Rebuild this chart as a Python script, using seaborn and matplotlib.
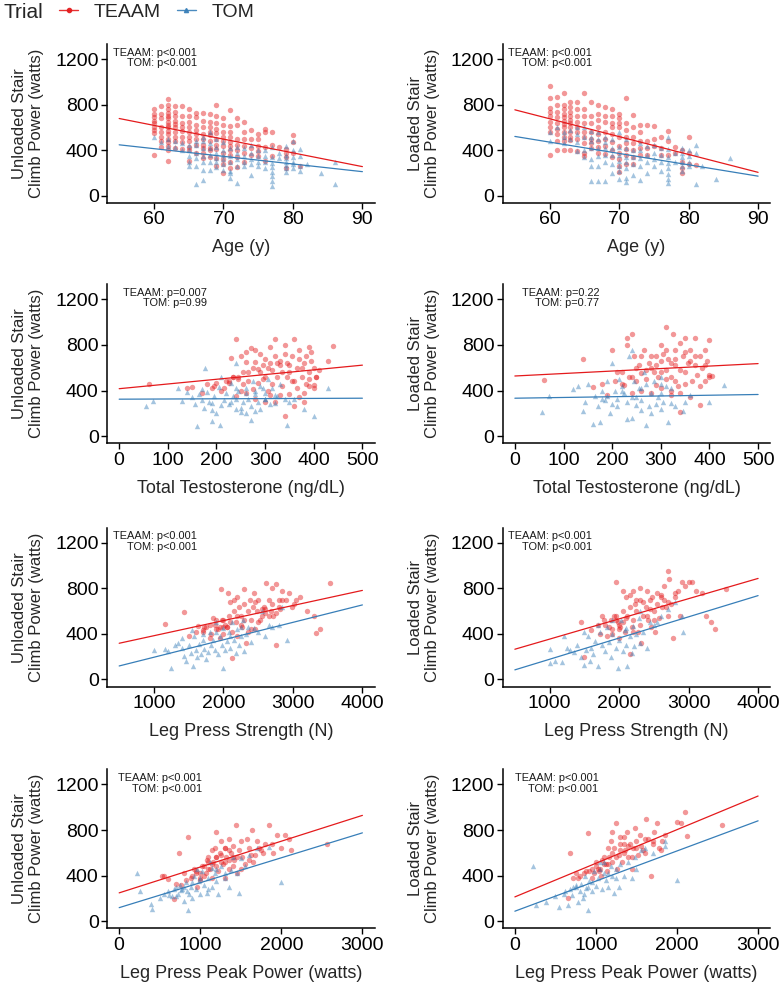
import numpy as np
import pandas as pd
import matplotlib
matplotlib.use("Agg")
import matplotlib.pyplot as plt
import seaborn as sns
from matplotlib.lines import Line2D

# ---------------- data ----------------
trials = ["TEAAM", "TOM"]
trial_colors = ["#E41A1C", "#377EB8"]
trial_markers = ["o", "^"]

# Row 1: Age (y)
unl_age_teaam = [(60,760),(60,720),(60,690),(60,660),(60,640),(60,600),(60,580),(60,550),(60,360),
 (61,790),(61,720),(61,680),(61,600),(61,560),(61,520),(61,480),(61,430),
 (62,850),(62,800),(62,760),(62,730),(62,700),(62,680),(62,650),(62,620),(62,600),(62,570),(62,540),(62,500),(62,470),(62,440),(62,400),(62,310),
 (63,790),(63,740),(63,700),(63,660),(63,630),(63,600),(63,560),(63,520),(63,480),(63,420),
 (64,790),(64,700),(64,640),(64,600),(64,570),(64,520),(64,470),(64,410),
 (65,760),(65,700),(65,650),(65,600),(65,560),(65,520),(65,480),(65,430),(65,400),(65,310),
 (66,730),(66,690),(66,620),(66,580),(66,540),(66,500),(66,450),(66,380),
 (67,730),(67,660),(67,600),(67,540),(67,500),(67,450),(67,420),(67,380),(67,330),
 (68,720),(68,650),(68,600),(68,560),(68,530),(68,480),(68,420),(68,400),(68,340),
 (69,800),(69,700),(69,640),(69,590),(69,550),(69,500),(69,450),(69,410),(69,330),(69,260),
 (70,680),(70,620),(70,560),(70,520),(70,480),(70,440),(70,380),(70,320),(70,280),(70,200),
 (71,750),(71,610),(71,560),(71,520),(71,470),(71,440),(71,400),(71,360),(71,300),(71,240),
 (72,680),(72,620),(72,500),(72,450),(72,400),(72,340),(72,250),
 (73,650),(73,560),(73,500),(73,440),(73,380),(73,300),
 (74,580),(74,500),(74,420),(74,360),
 (75,540),(75,500),(75,440),(75,390),(75,350),
 (76,590),(76,560),(76,430),(76,310),
 (77,560),(77,450),(77,350),(78,430),
 (79,410),(79,380),(79,340),(79,240),
 (80,530),(80,470),(80,380),(81,260)]
unl_age_tom = [(60,520),(61,470),(62,440),(62,500),(63,430),(63,480),(64,400),(64,460),
 (65,260),(65,300),(65,350),(65,400),(65,450),
 (66,100),(66,260),(66,330),(66,380),(66,450),(66,480),
 (67,140),(67,230),(67,300),(67,350),(67,420),(67,480),(67,520),
 (68,230),(68,300),(68,360),(68,420),(68,460),(68,560),
 (69,250),(69,300),(69,330),(69,380),(69,430),(69,500),
 (70,230),(70,280),(70,320),(70,360),(70,400),(70,470),
 (71,160),(71,200),(71,220),(71,300),(71,350),(71,420),
 (72,110),(72,260),(72,320),(72,380),(72,430),
 (73,260),(73,300),(73,350),(73,420),
 (74,180),(74,280),(74,320),(74,380),(74,450),
 (75,260),(75,300),(75,350),(75,400),
 (76,240),(76,300),(76,350),(76,400),
 (77,90),(77,130),(77,170),(77,210),(77,250),(77,290),(77,340),(77,430),
 (78,330),(78,380),
 (79,210),(79,240),(79,270),(79,300),(79,330),(79,360),(79,440),
 (80,240),(80,280),(80,300),(80,340),(80,400),(80,480),
 (81,220),(81,260),(81,350),(81,410),(82,280),(84,200),(86,100),(86,300)]
ld_age_teaam = [(60,960),(60,860),(60,770),(60,740),(60,700),(60,650),(60,600),(60,560),(60,360),
 (61,870),(61,800),(61,740),(61,690),(61,640),(61,590),(61,540),(61,480),(61,400),
 (62,900),(62,800),(62,760),(62,720),(62,690),(62,660),(62,630),(62,600),(62,560),(62,520),(62,480),(62,400),
 (63,820),(63,780),(63,740),(63,700),(63,670),(63,640),(63,600),(63,560),(63,520),(63,490),(63,400),
 (64,820),(64,760),(64,700),(64,650),(64,600),(64,560),(64,500),(64,390),
 (65,900),(65,760),(65,700),(65,640),(65,560),(65,520),(65,460),(65,380),(65,350),
 (66,820),(66,700),(66,640),(66,560),(66,500),(66,460),(66,420),
 (67,800),(67,720),(67,670),(67,600),(67,540),(67,480),(67,430),(67,380),
 (68,780),(68,700),(68,650),(68,560),(68,500),(68,440),(68,370),
 (69,760),(69,700),(69,640),(69,600),(69,540),(69,470),(69,400),(69,340),
 (70,720),(70,680),(70,640),(70,600),(70,520),(70,440),(70,380),(70,320),(70,260),(70,210),
 (71,860),(71,640),(71,580),(71,520),(71,460),(71,410),(71,360),(71,280),
 (72,710),(72,600),(72,520),(72,460),(72,400),(72,340),(72,280),
 (73,620),(73,560),(73,480),(73,420),(73,360),
 (74,620),(74,480),(74,420),(74,360),
 (75,610),(75,500),(75,440),(76,520),(76,420),(76,360),
 (77,570),(77,480),(77,360),(78,430),(78,380),
 (79,400),(79,300),(79,240),(79,200),(80,520),(80,380),(80,280),(81,270)]
ld_age_tom = [(60,560),(60,480),(61,600),(62,520),(62,460),(62,560),(63,580),(63,500),(64,540),(64,470),
 (64,600),(65,520),(65,600),(66,480),(66,520),(67,560),(68,520),
 (64,390),(65,340),(65,400),
 (66,130),(66,260),(66,320),(66,420),(66,570),
 (67,130),(67,260),(67,350),(67,420),(67,500),
 (68,130),(68,300),(68,360),(68,420),(68,470),
 (69,200),(69,280),(69,360),(69,420),(69,500),
 (70,150),(70,220),(70,260),(70,310),(70,360),(70,430),(70,560),
 (71,120),(71,160),(71,240),(71,300),(71,340),(71,420),(71,500),
 (72,180),(72,280),(72,340),(72,400),
 (73,140),(73,260),(73,330),(73,400),(73,460),
 (74,200),(74,300),(74,360),(74,440),
 (75,260),(75,320),(75,380),(75,450),
 (76,220),(76,300),(76,360),(76,420),
 (77,110),(77,150),(77,190),(77,240),(77,290),(77,340),(77,410),(77,520),
 (78,300),(78,380),
 (79,220),(79,260),(79,300),(79,340),(79,380),(79,420),
 (80,260),(80,300),(80,350),(80,400),
 (81,100),(81,380),(81,450),(82,260),(84,150),(86,330)]

# Row 2: Total Testosterone (ng/dL)
unl_t_teaam = [(62,460),(140,420),(150,430),(170,380),(180,460),(190,420),(195,440),(200,470),(210,400),
 (220,480),(225,470),(230,690),(235,520),(240,850),(245,500),(250,400),(255,560),(260,650),(265,480),
 (270,770),(275,600),(280,650),(285,470),(290,560),(295,620),(300,680),(300,520),(305,400),(310,640),
 (315,580),(320,850),(320,700),(325,520),(330,620),(335,440),(340,800),(340,180),(345,640),(350,560),
 (355,700),(360,850),(360,480),(365,600),(370,760),(375,520),(380,640),(380,380),(385,700),(390,560),
 (390,440),(395,740),(400,600),(400,450),(405,520),(410,580),(430,660),(440,790),(240,350),(260,380),
 (280,330),(300,300),(310,360),(320,300),(330,360),(350,370),(360,260),(370,340),(380,300),(390,500),
 (400,420),(250,700),(290,720),(330,660),(350,620),(370,680),(225,480),(245,520),(265,560),(285,590),
 (305,600),(325,640),(345,520),(365,420),(385,460),(405,520),(215,420),(235,520),(255,460),(275,410),
 (295,500),(315,460),(335,560),(355,480),(375,600),(395,660),(310,780),(280,760),(260,740),(390,780),(340,720)]
unl_t_tom = [(55,260),(70,310),(120,420),(130,310),(140,390),(150,340),(155,280),(160,90),(165,370),
 (170,320),(175,250),(180,390),(185,300),(190,130),(190,230),(195,350),(200,200),(177,600),(205,430),
 (208,100),(210,520),(215,320),(220,380),(225,280),(230,470),(235,350),(240,640),(240,240),(245,400),
 (250,250),(255,300),(260,420),(265,330),(270,140),(270,260),(275,480),(280,370),(285,300),(290,240),
 (295,420),(300,330),(300,330),(305,500),(310,280),(315,420),(320,360),(325,350),(330,460),(340,330),
 (345,100),(350,300),(360,330),(380,240),(400,180),(430,420),(250,210),(260,200),(230,300),(210,270),
 (280,220),(190,290),(170,410),(240,330),(320,290),(300,380),(260,380),(280,400),(240,420),(290,440)]
ld_t_teaam = [(60,490),(140,680),(160,430),(180,460),(190,360),(200,760),(205,480),(210,560),(220,560),
 (225,450),(230,860),(230,800),(235,520),(240,900),(245,700),(250,480),(255,620),(260,550),(265,760),
 (270,500),(275,640),(280,700),(285,560),(290,620),(295,520),(300,800),(300,660),(305,720),(310,960),
 (310,580),(315,680),(320,520),(320,400),(325,900),(330,760),(330,620),(335,440),(340,210),(340,820),
 (345,700),(350,860),(350,560),(355,640),(360,760),(365,480),(370,860),(370,620),(375,540),(380,700),
 (380,270),(385,600),(390,760),(390,480),(395,660),(400,840),(400,540),(400,520),(405,530),(240,380),
 (260,400),(280,380),(300,420),(320,360),(340,380),(360,340),(380,440),(290,450),(310,500),(330,480),
 (350,460),(250,600),(270,580),(290,700),(310,760),(330,680),(350,740),(370,700),(390,620),(220,460),
 (240,520),(260,700),(280,600),(300,560),(320,640),(340,580),(360,660)]
ld_t_tom = [(55,210),(70,350),(120,410),(130,440),(140,220),(145,300),(150,460),(160,110),(165,350),
 (170,260),(175,120),(180,400),(185,320),(190,480),(195,200),(200,280),(200,640),(205,400),(210,330),
 (215,500),(220,440),(225,380),(230,150),(235,700),(240,160),(240,760),(245,480),(250,270),(255,420),
 (260,320),(265,560),(270,100),(270,460),(275,260),(280,380),(285,480),(290,280),(295,340),(300,520),
 (300,380),(305,300),(310,440),(315,120),(320,290),(330,260),(345,220),(350,300),(360,360),(400,300),
 (430,450),(250,340),(230,300),(210,260),(260,230),(280,200),(190,350),(240,340),(300,240),(320,420),(180,330),
 (260,420),(300,460),(220,400)]

# Row 3: Leg Press Strength (N)
unl_lp_teaam = [(1160,490),(1430,590),(1500,380),(1600,420),(1640,470),(1700,430),(1720,460),(1750,460),
 (1800,480),(1820,400),(1850,540),(1880,480),(1900,440),(1920,440),(1950,360),(1960,790),(1980,520),
 (2000,520),(2000,400),(2020,480),(2050,460),(2060,760),(2080,560),(2100,680),(2120,420),(2130,190),
 (2150,600),(2180,500),(2200,720),(2200,380),(2230,640),(2250,560),(2270,460),(2300,790),(2300,660),
 (2320,320),(2350,600),(2380,700),(2400,520),(2420,640),(2440,760),(2450,440),(2480,600),(2500,700),
 (2520,520),(2550,560),(2580,640),(2600,620),(2620,850),(2650,560),(2680,600),(2700,800),(2720,560),
 (2750,840),(2760,300),(2800,700),(2820,620),(2850,780),(2900,700),(2950,760),(2980,640),(3020,660),
 (3100,720),(3200,600),(3300,560),(3330,410),(3390,440),(3540,850),(1700,420),(1800,360),(1900,520),
 (2000,460),(2100,500),(2200,560),(2300,520),(2400,440),(2500,500),(2600,580),(2700,660),(2800,640),
 (1950,460),(2050,460),(2150,700),(2250,480),(2350,420),(2450,680),(2550,620),(2650,700),(2750,580),
 (2850,700),(3050,700)]
unl_lp_tom = [(1000,260),(1160,270),(1200,250),(1240,100),(1300,300),(1350,320),(1400,280),(1440,210),
 (1460,160),(1500,300),(1530,230),(1560,120),(1580,380),(1600,260),(1620,200),(1650,310),(1680,220),
 (1700,350),(1720,270),(1750,180),(1780,240),(1800,420),(1820,300),(1850,350),(1880,260),(1900,500),
 (1920,220),(1950,380),(1980,300),(2000,100),(2000,450),(2030,260),(2050,340),(2080,420),(2100,280),
 (2120,500),(2150,350),(2180,230),(2200,440),(2220,300),(2250,380),(2280,520),(2300,250),(2320,400),
 (2360,460),(2400,330),(2440,450),(2500,420),(2550,600),(2600,380),(2650,480),(2700,460),(2800,480),
 (2850,640),(2920,350),(1400,360),(1550,430),(1700,400),(1900,420),(2100,380),(2250,460)]
ld_lp_teaam = [(1450,500),(1500,200),(1600,430),(1700,480),(1720,400),(1750,560),(1780,520),(1800,480),
 (1820,380),(1850,460),(1880,520),(1900,400),(1930,560),(1950,860),(1960,560),(1980,500),(2000,440),
 (2000,360),(2020,460),(2050,500),(2060,780),(2080,420),(2100,720),(2120,560),(2150,640),(2160,220),
 (2180,460),(2200,780),(2200,520),(2230,660),(2250,600),(2270,420),(2300,800),(2300,700),(2320,320),
 (2350,560),(2380,640),(2400,780),(2420,520),(2440,700),(2460,460),(2480,720),(2500,600),(2520,420),
 (2550,660),(2580,540),(2600,740),(2620,640),(2650,820),(2680,640),(2700,950),(2700,560),(2720,880),
 (2750,660),(2780,360),(2800,760),(2850,780),(2880,560),(2900,860),(2950,820),(3000,860),(3050,860),
 (3100,780),(3200,760),(3250,560),(3320,500),(3380,440),(3540,790),(1900,440),(2000,480),(2100,540),
 (2200,420),(2300,480),(2400,560),(2500,520),(2600,720),(2700,680),(2800,720),(1950,520),(2050,600),
 (2150,740),(2250,700),(2350,680),(2450,620),(2550,760),(2650,700)]
ld_lp_tom = [(1000,270),(1000,140),(1080,160),(1180,150),(1200,380),(1250,280),(1300,260),(1350,240),
 (1400,300),(1450,200),(1500,130),(1520,260),(1550,380),(1580,160),(1600,280),(1620,220),(1650,340),
 (1700,120),(1720,420),(1750,300),(1800,250),(1820,460),(1850,330),(1880,200),(1900,400),(1950,280),
 (1980,100),(2000,350),(2030,520),(2050,250),(2080,430),(2100,300),(2120,120),(2150,380),(2180,230),
 (2200,470),(2220,290),(2250,400),(2280,540),(2300,320),(2350,420),(2400,280),(2450,500),(2500,480),
 (2550,500),(2600,560),(2700,620),(2800,680),(2920,420),(2900,560),(1500,420),(1700,480),(1900,520),
 (2100,450),(2300,600)]

# Row 4: Leg Press Peak Power (watts)
unl_pp_teaam = [(530,400),(550,400),(600,370),(680,190),(700,330),(740,600),(760,320),(800,420),(820,360),
 (850,740),(880,380),(900,400),(920,460),(950,440),(960,300),(1000,420),(1000,360),(1020,480),(1050,480),
 (1070,420),(1080,540),(1100,520),(1100,460),(1120,460),(1140,380),(1160,520),(1180,640),(1200,780),
 (1200,560),(1220,440),(1240,600),(1260,700),(1280,500),(1300,640),(1300,380),(1320,560),(1350,720),
 (1360,460),(1380,600),(1400,660),(1420,540),(1440,840),(1450,420),(1480,620),(1500,700),(1520,560),
 (1550,500),(1580,720),(1600,640),(1620,580),(1640,800),(1650,520),(1680,580),(1700,700),(1720,640),
 (1750,620),(1780,600),(1800,680),(1850,840),(1880,680),(1900,600),(1950,760),(2000,640),(2050,760),
 (2100,720),(2120,620),(2560,680),(1000,380),(1100,560),(1200,480),(1300,520),(1400,480),(1500,460),
 (1150,620),(1250,580),(1350,540),(1450,560),(1050,400),(950,420),(1200,560),(1400,560),(1600,540),
 (1300,640),(1250,520),(1150,500),(1350,620)]
unl_pp_tom = [(220,420),(260,260),(390,150),(400,110),(500,200),(550,240),(600,260),(620,230),(650,220),
 (680,280),(700,300),(720,240),(750,320),(780,280),(800,180),(820,340),(840,260),(850,100),(880,300),
 (900,200),(920,400),(950,280),(960,460),(980,350),(1000,240),(1020,440),(1050,320),(1080,250),
 (1100,380),(1120,520),(1150,300),(1180,420),(1200,350),(1220,240),(1250,480),(1300,380),(1350,300),
 (1380,450),(1400,560),(1450,420),(1480,250),(1500,550),(1550,480),(1600,580),(1700,640),(1850,650),
 (2000,340),(700,220),(800,300),(900,340),(1000,380),(1100,280),(1200,460),(1300,420),(760,270),
 (860,240),(1140,470)]
ld_pp_teaam = [(660,200),(680,600),(720,380),(760,420),(780,380),(800,400),(850,420),(880,440),(900,770),
 (920,440),(950,380),(980,420),(1000,480),(1020,460),(1040,440),(1060,400),(1080,540),(1100,500),
 (1120,500),(1140,440),(1160,560),(1180,700),(1200,520),(1220,640),(1250,860),(1260,460),(1280,580),
 (1300,680),(1320,520),(1340,740),(1360,620),(1380,780),(1400,560),(1420,680),(1440,460),(1460,640),
 (1480,820),(1500,700),(1520,580),(1540,760),(1560,660),(1580,620),(1600,600),(1620,900),(1640,720),
 (1680,400),(1700,700),(1720,780),(1750,860),(1780,640),(1800,620),(1820,700),(1850,760),(2000,870),
 (2050,860),(2100,960),(2120,750),(2560,840),(1000,520),(1100,560),(1200,600),(1300,620),(1400,660),
 (1150,500),(1250,560),(1350,600),(1450,560),(1050,460),(950,460),(1200,780),(1350,680),(1500,640),
 (1600,720),(1700,680),(1300,740),(1150,640)]
ld_pp_tom = [(220,480),(260,140),(380,170),(500,220),(550,120),(600,240),(620,260),(650,140),(680,280),
 (700,230),(720,300),(750,300),(780,170),(800,260),(820,330),(840,200),(860,400),(880,290),(900,100),
 (920,350),(950,260),(980,440),(1000,310),(1020,380),(1050,520),(1080,280),(1100,420),(1120,360),
 (1150,300),(1180,480),(1200,400),(1220,250),(1250,460),(1280,300),(1300,500),(1350,400),(1400,520),
 (1450,380),(1480,560),(1500,460),(1550,620),(1600,640),(1700,600),(1850,700),(1850,660),(2000,360),
 (750,320),(850,240),(950,340),(1050,460),(1150,420),(1250,380),(1100,520),(900,300)]

x_labels = ["Age (y)", "Total Testosterone (ng/dL)", "Leg Press Strength (N)", "Leg Press Peak Power (watts)"]
y_labels = ["Unloaded Stair\nClimb Power (watts)", "Loaded Stair\nClimb Power (watts)"]
x_limits = [(55, 90), (0, 500), (500, 4000), (0, 3000)]
x_ticks = [[60, 70, 80, 90], [0, 100, 200, 300, 400, 500], [1000, 2000, 3000, 4000], [0, 1000, 2000, 3000]]
y_limits = (0, 1270)
y_ticks = [0, 400, 800, 1200]
p_teaam = [["p<0.001", "p<0.001"], ["p=0.007", "p=0.22"], ["p<0.001", "p<0.001"], ["p<0.001", "p<0.001"]]
p_tom = [["p<0.001", "p<0.001"], ["p=0.99", "p=0.77"], ["p<0.001", "p<0.001"], ["p<0.001", "p<0.001"]]

panel_data = [
    [(unl_age_teaam, unl_age_tom), (ld_age_teaam, ld_age_tom)],
    [(unl_t_teaam, unl_t_tom), (ld_t_teaam, ld_t_tom)],
    [(unl_lp_teaam, unl_lp_tom), (ld_lp_teaam, ld_lp_tom)],
    [(unl_pp_teaam, unl_pp_tom), (ld_pp_teaam, ld_pp_tom)],
]

# ---------------- style ----------------
sns.set_theme(style="ticks")
plt.rcParams["font.family"] = ["Liberation Sans", "DejaVu Sans"]
plt.rcParams["axes.edgecolor"] = "black"
plt.rcParams["xtick.color"] = "black"
plt.rcParams["ytick.color"] = "black"

fig = plt.figure(figsize=(7.8, 9.88), dpi=100)

col_left = [0.1372, 0.6445]
col_w = 0.343
row_bottom = [0.7945, 0.5513, 0.3050, 0.0604]
row_h = 0.161
annot_x = [[0.335, 0.335], [0.372, 0.361], [0.335, 0.335], [0.356, 0.358]]

for r in range(4):
    for c in range(2):
        ax = fig.add_axes([col_left[c], row_bottom[r], col_w, row_h])
        lo, hi = x_limits[r]
        for k, tr in enumerate(trials):
            df = pd.DataFrame(panel_data[r][c][k], columns=["x", "y"])
            sns.scatterplot(data=df, x="x", y="y", ax=ax, color=trial_colors[k],
                            marker=trial_markers[k], s=15, alpha=0.45, linewidth=0,
                            legend=False, zorder=2)
        ax.set_xlim(lo, hi)
        for k, tr in enumerate(trials):
            df = pd.DataFrame(panel_data[r][c][k], columns=["x", "y"])
            sns.regplot(data=df, x="x", y="y", ax=ax, scatter=False, ci=None,
                        truncate=False, color=trial_colors[k],
                        line_kws={"linewidth": 0.9, "zorder": 3})
        pad = (hi - lo) * 0.05
        ax.set_xlim(lo - pad, hi + pad)
        ypad = (y_limits[1] - y_limits[0]) * 0.05
        ax.set_ylim(y_limits[0] - ypad, y_limits[1] + ypad)
        ax.set_xticks(x_ticks[r])
        ax.set_yticks(y_ticks)
        ax.tick_params(axis="both", labelsize=14, length=4, width=1, direction="out", pad=2)
        for s in ["top", "right"]:
            ax.spines[s].set_visible(False)
        for s in ["left", "bottom"]:
            ax.spines[s].set_linewidth(1.1)
        ax.set_xlabel(x_labels[r], fontsize=13, labelpad=8)
        ax.set_ylabel(y_labels[c], fontsize=12, labelpad=8, linespacing=1.15)
        ax.text(annot_x[r][c], 0.945, "TEAAM: " + p_teaam[r][c], transform=ax.transAxes,
                ha="right", va="center", fontsize=7.9, color="#1a1a1a")
        ax.text(annot_x[r][c], 0.879, "TOM: " + p_tom[r][c], transform=ax.transAxes,
                ha="right", va="center", fontsize=7.9, color="#1a1a1a")

# ---------------- legend ----------------
fig.text(0.004, 1 - 12 / 988, "Trial", fontsize=15, ha="left", va="center")
handles = [Line2D([0], [0], color=trial_colors[k], marker=trial_markers[k], markersize=3,
                  linewidth=1, alpha=0.9) for k in range(2)]
fig.legend(handles, trials, loc="center left", bbox_to_anchor=(59 / 780, 1 - 12 / 988),
           ncol=2, frameon=False, fontsize=14, handlelength=1.0, handletextpad=0.8,
           columnspacing=0.8, borderpad=0, borderaxespad=0)

fig.savefig("out.png", dpi=100)
